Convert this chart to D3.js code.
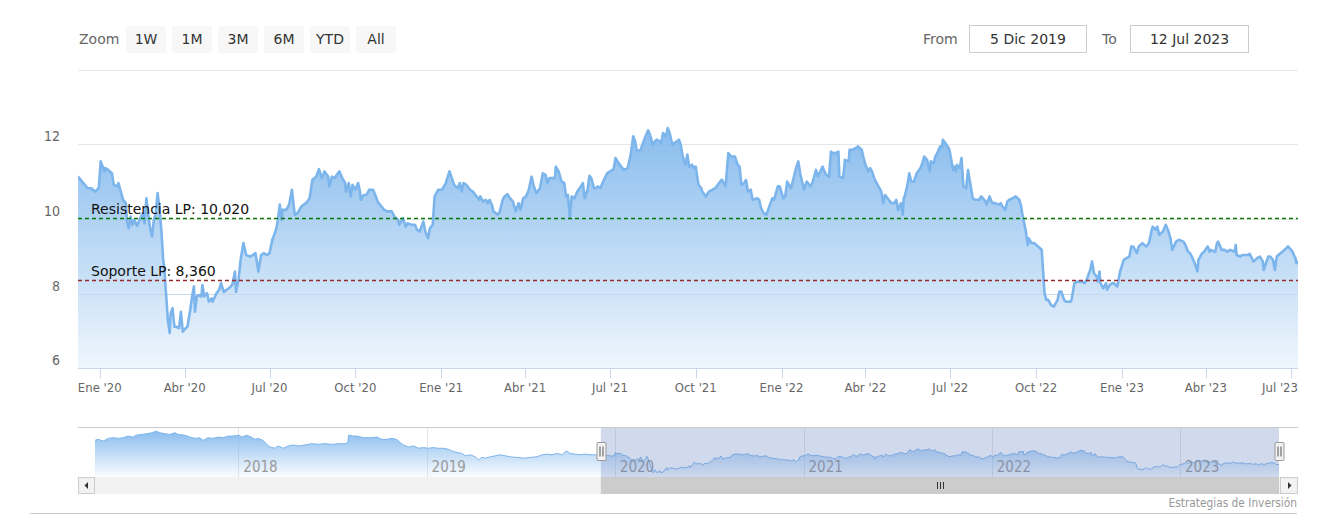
<!DOCTYPE html>
<html><head><meta charset="utf-8">
<script src="https://cdn.jsdelivr.net/npm/d3@7"></script>
<style>
body{margin:0;background:#fff}
svg{display:block}
.cond{font-family:"DejaVu Sans Condensed","DejaVu Sans",sans-serif;font-stretch:condensed}
.reg{font-family:"DejaVu Sans",sans-serif}
</style>
</head><body>
<svg id="chart" width="1342" height="517"></svg>
<script>
// ---------- data ----------
const zoomButtons = ["1W","1M","3M","6M","YTD","All"];
const zoomTitle = "Zoom";
const fromTitle = "From", toTitle = "To";
const fromValue = "5 Dic 2019", toValue = "12 Jul 2023";
const rangeStart = "2019-12-05", rangeEnd = "2023-07-12";
const navStart = "2017-03-29";
const yGridValues = [6, 8, 10, 12, 14];
const yLabelValues = [6, 8, 10, 12];
const xTickDates = ["2020-01-01","2020-04-01","2020-07-01","2020-10-01","2021-01-01","2021-04-01","2021-07-01","2021-10-01","2022-01-01","2022-04-01","2022-07-01","2022-10-01","2023-01-01","2023-04-01","2023-07-01"];
const xTickLabels = ["Ene '20","Abr '20","Jul '20","Oct '20","Ene '21","Abr '21","Jul '21","Oct '21","Ene '22","Abr '22","Jul '22","Oct '22","Ene '23","Abr '23","Jul '23"];
const navYears = ["2018","2019","2020","2021","2022","2023"];
const resistanceValue = 10.02, resistanceLabel = "Resistencia LP: 10,020";
const supportValue = 8.36, supportLabel = "Soporte LP: 8,360";
const creditsText = "Estrategias de Inversión";

const mainData = [
["2019-12-05",11.02],["2019-12-09",11.12],["2019-12-16",10.91],["2019-12-19",10.82],["2019-12-23",10.82],["2019-12-27",10.73],["2019-12-30",10.80],["2019-12-31",10.85],
["2020-01-02",11.54],["2020-01-06",11.27],["2020-01-07",11.36],["2020-01-10",11.31],["2020-01-14",11.22],["2020-01-16",10.91],["2020-01-20",10.87],["2020-01-21",10.96],["2020-01-23",10.78],["2020-01-26",10.51],["2020-01-29",10.42],["2020-01-30",9.97],
["2020-02-01",9.75],["2020-02-03",10.06],["2020-02-05",9.84],["2020-02-07",9.97],["2020-02-10",9.81],["2020-02-13",10.00],["2020-02-16",10.15],["2020-02-18",9.88],["2020-02-20",10.55],["2020-02-22",10.11],["2020-02-24",9.75],["2020-02-26",9.53],["2020-02-28",9.97],
["2020-03-01",10.15],["2020-03-03",10.69],["2020-03-05",10.29],["2020-03-07",9.70],["2020-03-09",8.90],["2020-03-10",8.72],["2020-03-12",8.01],["2020-03-14",7.29],["2020-03-16",6.94],["2020-03-17",7.47],["2020-03-19",7.61],["2020-03-21",7.11],["2020-03-23",7.11],["2020-03-26",7.07],["2020-03-28",7.51],["2020-03-30",6.98],
["2020-04-02",7.07],["2020-04-04",7.11],["2020-04-07",7.56],["2020-04-09",7.92],["2020-04-11",8.19],["2020-04-12",7.51],["2020-04-14",7.92],["2020-04-16",7.96],["2020-04-19",7.92],["2020-04-20",8.23],["2020-04-22",7.92],["2020-04-25",8.01],["2020-04-27",7.78],["2020-04-30",7.87],
["2020-05-01",7.78],["2020-05-05",8.00],["2020-05-08",8.10],["2020-05-10",8.28],["2020-05-13",8.04],["2020-05-16",8.10],["2020-05-19",8.15],["2020-05-22",8.23],["2020-05-25",8.59],["2020-05-26",8.04],["2020-05-29",8.41],["2020-05-31",8.90],
["2020-06-03",9.35],["2020-06-06",9.03],["2020-06-10",8.99],["2020-06-13",9.03],["2020-06-16",9.08],["2020-06-19",8.59],["2020-06-22",9.03],["2020-06-25",9.08],["2020-06-28",9.03],
["2020-07-01",9.08],["2020-07-04",9.44],["2020-07-06",9.57],["2020-07-08",9.71],["2020-07-10",9.97],["2020-07-12",10.38],["2020-07-14",9.97],["2020-07-15",10.24],["2020-07-19",10.24],["2020-07-22",10.38],["2020-07-25",10.78],["2020-07-28",10.11],["2020-07-31",10.15],
["2020-08-04",10.33],["2020-08-09",10.42],["2020-08-13",10.55],["2020-08-16",11.05],["2020-08-20",11.13],["2020-08-23",11.33],["2020-08-26",11.09],["2020-08-29",11.27],
["2020-09-02",11.13],["2020-09-03",10.87],["2020-09-06",11.13],["2020-09-09",11.09],["2020-09-11",11.18],["2020-09-14",11.27],["2020-09-17",11.09],["2020-09-20",10.96],["2020-09-21",10.73],["2020-09-24",10.96],["2020-09-26",10.60],["2020-09-28",10.91],
["2020-10-01",10.78],["2020-10-04",10.96],["2020-10-06",10.73],["2020-10-07",10.51],["2020-10-10",10.64],["2020-10-13",10.64],["2020-10-16",10.78],["2020-10-20",10.78],["2020-10-23",10.60],["2020-10-25",10.46],["2020-10-29",10.33],
["2020-11-01",10.24],["2020-11-04",10.20],["2020-11-09",10.20],["2020-11-12",10.06],["2020-11-16",9.97],["2020-11-17",9.84],["2020-11-21",10.02],["2020-11-24",9.79],["2020-11-26",9.88],["2020-11-30",9.84],
["2020-12-04",9.84],["2020-12-06",9.71],["2020-12-09",9.66],["2020-12-13",9.93],["2020-12-15",9.66],["2020-12-18",9.48],["2020-12-20",9.75],["2020-12-23",9.84],["2020-12-25",10.60],["2020-12-29",10.78],
["2021-01-02",10.78],["2021-01-06",10.96],["2021-01-10",11.27],["2021-01-13",11.05],["2021-01-15",10.91],["2021-01-19",10.82],["2021-01-21",10.96],["2021-01-23",10.73],["2021-01-25",10.96],["2021-01-28",10.91],
["2021-02-01",10.78],["2021-02-04",10.73],["2021-02-08",10.60],["2021-02-11",10.51],["2021-02-12",10.60],["2021-02-15",10.46],["2021-02-18",10.51],["2021-02-20",10.42],["2021-02-22",10.51],["2021-02-25",10.33],["2021-02-26",10.20],
["2021-03-03",10.11],["2021-03-05",10.20],["2021-03-08",10.51],["2021-03-10",10.60],["2021-03-13",10.66],["2021-03-16",10.55],["2021-03-19",10.46],["2021-03-22",10.20],["2021-03-25",10.42],["2021-03-27",10.24],["2021-03-30",10.55],
["2021-04-02",10.60],["2021-04-05",10.78],["2021-04-08",11.13],["2021-04-10",10.91],["2021-04-13",10.69],["2021-04-17",10.82],["2021-04-20",11.22],["2021-04-23",11.18],["2021-04-25",10.96],["2021-04-27",11.09],["2021-04-30",11.09],
["2021-05-03",11.09],["2021-05-04",11.40],["2021-05-07",11.27],["2021-05-10",11.00],["2021-05-13",10.96],["2021-05-15",10.60],["2021-05-17",10.64],["2021-05-19",10.02],["2021-05-21",10.60],["2021-05-24",10.55],["2021-05-27",10.73],["2021-05-31",10.87],
["2021-06-02",10.96],["2021-06-04",10.55],["2021-06-07",10.78],["2021-06-09",11.15],["2021-06-11",11.09],["2021-06-14",10.82],["2021-06-16",10.82],["2021-06-18",10.87],["2021-06-21",10.82],["2021-06-23",10.96],["2021-06-28",11.22],
["2021-07-01",11.27],["2021-07-05",11.33],["2021-07-07",11.63],["2021-07-09",11.54],["2021-07-13",11.40],["2021-07-16",11.31],["2021-07-20",11.36],["2021-07-23",11.68],["2021-07-26",12.21],["2021-07-28",12.08],["2021-07-30",11.80],
["2021-08-03",11.85],["2021-08-06",12.07],["2021-08-11",12.37],["2021-08-13",12.25],["2021-08-16",11.98],["2021-08-18",12.07],["2021-08-20",12.12],["2021-08-24",12.07],["2021-08-25",12.03],["2021-08-27",12.30],["2021-08-30",12.21],
["2021-09-01",12.43],["2021-09-03",12.30],["2021-09-06",11.98],["2021-09-08",12.03],["2021-09-13",12.12],["2021-09-15",11.98],["2021-09-17",11.68],["2021-09-20",11.45],["2021-09-22",11.72],["2021-09-24",11.40],["2021-09-27",11.45],["2021-09-29",11.36],
["2021-10-01",11.40],["2021-10-04",10.91],["2021-10-07",10.82],["2021-10-08",10.73],["2021-10-12",10.60],["2021-10-15",10.73],["2021-10-19",10.78],["2021-10-22",10.82],["2021-10-26",10.96],["2021-10-29",11.05],
["2021-11-02",10.87],["2021-11-05",11.76],["2021-11-08",11.67],["2021-11-12",11.67],["2021-11-15",11.45],["2021-11-17",11.40],["2021-11-19",10.91],["2021-11-22",10.96],["2021-11-24",11.04],["2021-11-26",10.73],["2021-11-29",10.78],
["2021-12-01",10.51],["2021-12-06",10.55],["2021-12-08",10.51],["2021-12-10",10.29],["2021-12-13",10.15],["2021-12-16",10.11],["2021-12-17",10.20],["2021-12-22",10.55],["2021-12-24",10.51],["2021-12-28",10.87],["2021-12-30",10.87],
["2022-01-03",10.55],["2022-01-05",10.60],["2022-01-07",11.00],["2022-01-11",10.82],["2022-01-13",11.00],["2022-01-17",11.40],["2022-01-19",11.54],["2022-01-21",11.22],["2022-01-25",10.78],["2022-01-28",11.00],
["2022-02-01",10.87],["2022-02-03",10.96],["2022-02-07",11.31],["2022-02-09",11.13],["2022-02-14",11.40],["2022-02-16",11.27],["2022-02-18",11.18],["2022-02-21",11.13],["2022-02-23",11.80],["2022-02-25",11.76],["2022-02-28",11.76],
["2022-03-03",11.80],["2022-03-04",11.13],["2022-03-08",11.09],["2022-03-10",11.58],["2022-03-14",11.54],["2022-03-15",11.85],["2022-03-18",11.85],["2022-03-22",11.90],["2022-03-24",11.94],["2022-03-28",11.85],["2022-03-30",11.63],
["2022-04-01",11.45],["2022-04-04",11.27],["2022-04-06",11.36],["2022-04-08",11.27],["2022-04-11",11.05],["2022-04-13",10.96],["2022-04-18",10.73],["2022-04-20",10.42],["2022-04-22",10.64],["2022-04-26",10.51],["2022-04-29",10.42],
["2022-05-02",10.42],["2022-05-04",10.51],["2022-05-06",10.24],["2022-05-09",10.42],["2022-05-11",10.11],["2022-05-12",10.55],["2022-05-13",10.60],["2022-05-16",10.91],["2022-05-18",11.22],["2022-05-20",11.00],["2022-05-23",11.00],["2022-05-26",11.22],["2022-05-30",11.36],
["2022-06-01",11.49],["2022-06-03",11.67],["2022-06-06",11.58],["2022-06-09",11.27],["2022-06-10",11.54],["2022-06-13",11.49],["2022-06-15",11.67],["2022-06-17",11.76],["2022-06-20",11.94],["2022-06-22",11.90],["2022-06-23",12.12],["2022-06-27",11.98],["2022-06-29",11.90],["2022-06-30",11.85],
["2022-07-04",11.31],["2022-07-05",11.40],["2022-07-07",11.27],["2022-07-08",11.45],["2022-07-11",11.36],["2022-07-13",11.63],["2022-07-15",10.87],["2022-07-18",10.82],["2022-07-20",11.31],["2022-07-22",11.00],["2022-07-25",10.55],["2022-07-28",10.51],
["2022-08-01",10.51],["2022-08-03",10.60],["2022-08-05",10.55],["2022-08-08",10.46],["2022-08-09",10.38],["2022-08-12",10.60],["2022-08-15",10.42],["2022-08-18",10.42],["2022-08-22",10.38],["2022-08-24",10.42],["2022-08-26",10.33],["2022-08-29",10.24],["2022-08-31",10.46],
["2022-09-02",10.51],["2022-09-06",10.55],["2022-09-09",10.60],["2022-09-13",10.51],["2022-09-15",10.33],["2022-09-16",10.15],["2022-09-19",9.79],["2022-09-20",9.66],["2022-09-22",9.30],["2022-09-23",9.48],["2022-09-26",9.35],["2022-09-29",9.35],
["2022-10-03",9.26],["2022-10-07",9.17],["2022-10-10",8.01],["2022-10-11",7.92],["2022-10-12",7.83],["2022-10-14",7.83],["2022-10-17",7.69],["2022-10-20",7.65],["2022-10-24",7.83],["2022-10-26",8.05],["2022-10-28",8.05],["2022-10-31",7.83],
["2022-11-02",7.78],["2022-11-07",7.78],["2022-11-08",7.83],["2022-11-11",8.28],["2022-11-15",8.32],["2022-11-18",8.32],["2022-11-22",8.28],["2022-11-24",8.36],["2022-11-28",8.63],["2022-11-30",8.86],
["2022-12-02",8.54],["2022-12-05",8.45],["2022-12-06",8.32],["2022-12-08",8.59],["2022-12-09",8.28],["2022-12-12",8.14],["2022-12-15",8.28],["2022-12-16",8.10],["2022-12-19",8.23],["2022-12-22",8.28],["2022-12-23",8.28],["2022-12-27",8.19],["2022-12-29",8.45],["2022-12-30",8.59],
["2023-01-03",8.90],["2023-01-06",8.95],["2023-01-09",8.99],["2023-01-11",9.26],["2023-01-13",9.26],["2023-01-17",9.08],["2023-01-19",9.26],["2023-01-23",9.35],["2023-01-25",9.30],["2023-01-27",9.26],["2023-01-30",9.35],
["2023-02-02",9.71],["2023-02-03",9.79],["2023-02-06",9.71],["2023-02-08",9.79],["2023-02-10",9.57],["2023-02-14",9.66],["2023-02-17",9.84],["2023-02-20",9.66],["2023-02-22",9.48],["2023-02-24",9.17],["2023-02-28",9.39],
["2023-03-03",9.44],["2023-03-08",9.39],["2023-03-10",9.30],["2023-03-13",9.12],["2023-03-15",9.08],["2023-03-17",8.99],["2023-03-20",8.81],["2023-03-23",8.59],["2023-03-24",8.90],["2023-03-28",9.08],["2023-03-30",9.12],
["2023-04-03",9.26],["2023-04-05",9.12],["2023-04-06",9.17],["2023-04-11",9.12],["2023-04-13",9.35],["2023-04-14",9.39],["2023-04-18",9.17],["2023-04-21",9.17],["2023-04-24",9.12],["2023-04-27",9.17],
["2023-05-02",9.12],["2023-05-03",9.30],["2023-05-04",9.03],["2023-05-08",8.99],["2023-05-10",9.03],["2023-05-12",9.03],["2023-05-16",9.03],["2023-05-18",9.06],["2023-05-22",8.86],["2023-05-24",8.90],["2023-05-26",8.95],["2023-05-29",8.99],
["2023-06-01",8.86],["2023-06-02",8.63],["2023-06-05",8.86],["2023-06-07",8.99],["2023-06-09",8.99],["2023-06-12",8.90],["2023-06-14",8.63],["2023-06-16",8.99],["2023-06-20",9.08],["2023-06-22",9.12],["2023-06-26",9.21],["2023-06-28",9.26],
["2023-07-03",9.12],["2023-07-05",8.99],["2023-07-06",8.95],["2023-07-07",8.81],["2023-07-10",8.88],["2023-07-12",8.78]
];

const historyData = [
["2017-03-29",14.31],["2017-04-04",14.54],["2017-04-14",14.16],["2017-04-24",14.76],["2017-05-03",14.91],["2017-05-13",14.76],["2017-05-23",14.91],["2017-06-01",15.28],["2017-06-11",15.06],["2017-06-17",15.50],["2017-06-27",15.66],
["2017-07-07",15.81],["2017-07-17",16.04],["2017-07-26",16.40],["2017-08-02",16.04],["2017-08-12",15.81],["2017-08-21",15.66],["2017-08-31",16.04],["2017-09-06",15.66],["2017-09-19",15.50],["2017-09-29",15.06],
["2017-10-09",14.76],["2017-10-18",14.91],["2017-10-25",14.31],["2017-11-03",14.91],["2017-11-13",14.76],["2017-11-23",15.06],["2017-12-02",14.91],["2017-12-12",15.28],["2017-12-22",15.28],
["2018-01-02",15.50],["2018-01-08",15.06],["2018-01-17",15.50],["2018-01-26",15.06],["2018-02-02",14.54],["2018-02-08",14.76],["2018-02-18",14.31],["2018-02-25",13.41],["2018-03-03",12.81],["2018-03-13",12.52],["2018-03-19",13.04],["2018-03-29",12.52],
["2018-04-08",13.04],["2018-04-17",13.26],["2018-04-27",13.04],["2018-05-10",13.26],["2018-05-23",13.56],["2018-06-05",13.41],["2018-06-18",13.56],["2018-07-01",13.41],["2018-07-14",13.56],["2018-07-27",13.56],["2018-08-01",13.79],["2018-08-03",15.50],
["2018-08-12",15.28],["2018-08-19",15.28],["2018-09-01",14.91],["2018-09-14",14.91],["2018-09-27",15.06],["2018-10-06",14.54],["2018-10-16",14.54],["2018-10-26",14.76],["2018-11-04",14.54],["2018-11-11",13.79],["2018-11-17",13.26],["2018-11-27",12.81],
["2018-12-07",13.04],["2018-12-16",12.52],["2018-12-26",12.67],["2019-01-05",12.52],["2019-01-14",12.67],["2019-01-24",12.52],["2019-02-03",12.52],["2019-02-12",12.30],["2019-02-19",11.92],["2019-03-01",11.56],["2019-03-11",11.34],["2019-03-17",10.80],
["2019-03-27",11.03],["2019-04-05",10.58],["2019-04-12",9.88],["2019-04-18",10.43],["2019-04-25",10.28],["2019-05-05",10.58],["2019-05-14",10.80],["2019-05-24",11.03],["2019-06-03",10.80],["2019-06-12",10.58],["2019-06-25",10.43],
["2019-07-08",10.28],["2019-07-21",10.43],["2019-08-03",10.58],["2019-08-13",11.03],["2019-08-22",11.18],["2019-09-01",11.03],["2019-09-11",11.34],["2019-09-20",11.03],["2019-09-30",11.92],["2019-10-06",11.34],["2019-10-16",11.18],
["2019-10-26",11.03],["2019-11-04",11.18],["2019-11-14",11.03],["2019-11-27",11.03]
];

// ---------- layout ----------
const parse = d3.utcParse("%Y-%m-%d");
const plotL = 78, plotR = 1298, plotT = 69.5, plotB = 368.2;
const navL = 95, navR = 1279, navT = 427, navB = 477;
const svg = d3.select("#chart");
const main = mainData.map(d => ({date: parse(d[0]), value: d[1]}));
const nav = historyData.map(d => ({date: parse(d[0]), value: d[1]})).concat(main);

const x = d3.scaleUtc().domain([parse(rangeStart), parse(rangeEnd)]).range([74.6, 1301]);
const y = d3.scaleLinear().domain([6, 14]).range([plotB, plotT]);

const defs = svg.append("defs");
defs.append("clipPath").attr("id","plotClip").append("rect")
  .attr("x", plotL).attr("y", 0).attr("width", plotR - plotL).attr("height", plotB + 1);
const g1 = defs.append("linearGradient").attr("id","gMain").attr("gradientUnits","userSpaceOnUse")
  .attr("x1",0).attr("x2",0).attr("y1", y(d3.max(main, d=>d.value))).attr("y2", plotB);
g1.append("stop").attr("offset",0).attr("stop-color","#7cb5ec").attr("stop-opacity",0.9);
g1.append("stop").attr("offset",1).attr("stop-color","#7cb5ec").attr("stop-opacity",0.12);

// ---------- range selector ----------
svg.append("text").attr("class","reg").attr("x",79).attr("y",44).attr("font-size",14).attr("fill","#666").text(zoomTitle);
const btn = svg.selectAll("g.btn").data(zoomButtons).join("g").attr("class","btn")
  .attr("transform",(d,i)=>`translate(${126 + i*46},26)`);
btn.append("rect").attr("width",40).attr("height",27).attr("rx",2).attr("fill","#f7f7f7");
btn.append("text").attr("class","reg").attr("x",20).attr("y",18).attr("text-anchor","middle")
  .attr("font-size",14).attr("fill","#333").text(d=>d);

svg.append("text").attr("class","reg").attr("x",923).attr("y",44).attr("font-size",14).attr("fill","#666").text(fromTitle);
svg.append("rect").attr("x",969.5).attr("y",25.5).attr("width",117).attr("height",27).attr("fill","#fff").attr("stroke","#ccc");
svg.append("text").attr("class","reg").attr("x",1028).attr("y",44).attr("text-anchor","middle").attr("font-size",14).attr("fill","#333").text(fromValue);
svg.append("text").attr("class","reg").attr("x",1102).attr("y",44).attr("font-size",14).attr("fill","#666").text(toTitle);
svg.append("rect").attr("x",1130.5).attr("y",25.5).attr("width",118).attr("height",27).attr("fill","#fff").attr("stroke","#ccc");
svg.append("text").attr("class","reg").attr("x",1189.5).attr("y",44).attr("text-anchor","middle").attr("font-size",14).attr("fill","#333").text(toValue);

// ---------- grid ----------
svg.append("g").selectAll("line").data(yGridValues.filter(v=>v>6)).join("line")
  .attr("x1",plotL).attr("x2",plotR).attr("y1",d=>Math.round(y(d))+0.5).attr("y2",d=>Math.round(y(d))+0.5)
  .attr("stroke","#e6e6e6").attr("stroke-width",1);

// ---------- series ----------
const plotG = svg.append("g").attr("clip-path","url(#plotClip)");
plotG.append("path").datum(main)
  .attr("d", d3.area().x(d=>x(d.date)).y0(plotB).y1(d=>y(d.value)))
  .attr("fill","url(#gMain)");
plotG.append("line").attr("x1",plotL).attr("x2",plotR).attr("y1",Math.round(y(8))+0.5).attr("y2",Math.round(y(8))+0.5)
  .attr("stroke","#c5d8ee").attr("stroke-width",1);
plotG.append("path").datum(main)
  .attr("d", d3.line().x(d=>x(d.date)).y(d=>y(d.value)))
  .attr("fill","none").attr("stroke","#7cb5ec").attr("stroke-width",2.6).attr("stroke-linejoin","round");

// ---------- plot lines ----------
function plotLine(v, color, label){
  const yy = Math.round(y(v)) + 0.5;
  svg.append("line").attr("x1",plotL).attr("x2",plotR).attr("y1",yy).attr("y2",yy)
    .attr("stroke",color).attr("stroke-width",1.4).attr("stroke-dasharray","4,3");
  svg.append("text").attr("class","reg").attr("x",91).attr("y",yy-4.5).attr("font-size",14).attr("fill","#111").text(label);
}
plotLine(resistanceValue, "#087a08", resistanceLabel);
plotLine(supportValue, "#962c2c", supportLabel);

// ---------- axes ----------
svg.append("line").attr("x1",plotL).attr("x2",plotR).attr("y1",plotB+0.3).attr("y2",plotB+0.3).attr("stroke","#ccd6eb");
const xt = svg.append("g").selectAll("g").data(xTickDates.map((d,i)=>({d:parse(d), label:xTickLabels[i]}))).join("g");
xt.append("line").attr("x1",d=>Math.round(x(d.d))+0.5).attr("x2",d=>Math.round(x(d.d))+0.5)
  .attr("y1",plotB).attr("y2",plotB+10).attr("stroke","#ccd6eb");
xt.append("text").attr("class","cond").attr("x",d=>x(d.d)).attr("y",392).attr("text-anchor","middle")
  .attr("font-size",13).attr("fill","#666").text(d=>d.label)
  .each(function(){
    const b = this.getBBox();
    if (b.x + b.width > plotR) { d3.select(this).attr("text-anchor","end").attr("x", plotR); }
  });
svg.append("g").selectAll("text").data(yLabelValues).join("text").attr("class","cond")
  .attr("x",60).attr("y",d=>y(d)-3).attr("text-anchor","end").attr("font-size",14).attr("fill","#666").text(d=>d);

// ---------- navigator ----------
const nx = d3.scaleUtc().domain([parse(navStart), parse(rangeEnd)]).range([navL, navR]);
const [nmin, nmax] = d3.extent(nav, d=>d.value);
const pad = (nmax - nmin) * 0.1;
const ny = d3.scaleLinear().domain([nmin - pad, nmax + pad]).range([navB, navT]);
const g2 = defs.append("linearGradient").attr("id","gNav").attr("gradientUnits","userSpaceOnUse")
  .attr("x1",0).attr("x2",0).attr("y1", ny(nmax)).attr("y2", navB);
g2.append("stop").attr("offset",0).attr("stop-color","#7cb5ec").attr("stop-opacity",0.9);
g2.append("stop").attr("offset",1).attr("stop-color","#7cb5ec").attr("stop-opacity",0.03);

svg.append("g").selectAll("line").data(navYears).join("line")
  .attr("x1",d=>Math.round(nx(parse(d+"-01-01")))+0.5).attr("x2",d=>Math.round(nx(parse(d+"-01-01")))+0.5)
  .attr("y1",navT).attr("y2",navB).attr("stroke","#e6e6e6");
svg.append("path").datum(nav)
  .attr("d", d3.area().x(d=>nx(d.date)).y0(navB).y1(d=>ny(d.value)))
  .attr("fill","url(#gNav)");
svg.append("path").datum(nav)
  .attr("d", d3.line().x(d=>nx(d.date)).y(d=>ny(d.value)))
  .attr("fill","none").attr("stroke","#7cb5ec").attr("stroke-width",1);
svg.append("g").selectAll("text").data(navYears).join("text").attr("class","cond")
  .attr("x",d=>nx(parse(d+"-01-01"))+5).attr("y",471.5).attr("font-size",15).attr("fill","#999").text(d=>d);
const hL = nx(parse(rangeStart)), hR = nx(parse(rangeEnd));
svg.append("rect").attr("x",hL).attr("y",navT).attr("width",hR-hL).attr("height",navB-navT)
  .attr("fill","rgba(102,133,194,0.3)");
svg.append("line").attr("x1",plotL).attr("x2",plotR).attr("y1",navT+0.5).attr("y2",navT+0.5).attr("stroke","#ccc");
[hL, hR].forEach(hx=>{
  const cx = Math.round(hx)+0.5;
  svg.append("rect").attr("x",cx-4.5).attr("y",442.5).attr("width",9).attr("height",18).attr("rx",1)
    .attr("fill","#f2f2f2").attr("stroke","#999");
  [-1.5,1.5].forEach(o=>svg.append("line").attr("x1",cx+o).attr("x2",cx+o).attr("y1",446.5).attr("y2",456.5).attr("stroke","#555"));
});

// ---------- scrollbar ----------
svg.append("rect").attr("x",plotL).attr("y",477).attr("width",plotR-plotL).attr("height",17).attr("fill","#f2f2f2");
svg.append("rect").attr("x",hL).attr("y",477).attr("width",hR-hL).attr("height",17).attr("fill","#cccccc");
const gripX = Math.round((hL+hR)/2);
[-3,0,3].forEach(o=>svg.append("line").attr("x1",gripX+o+0.5).attr("x2",gripX+o+0.5).attr("y1",482).attr("y2",489).attr("stroke","#333"));
svg.append("rect").attr("x",plotL+0.5).attr("y",477.5).attr("width",16).attr("height",16).attr("fill","#f2f2f2").attr("stroke","#ccc");
svg.append("path").attr("d",`M${plotL+6.5},485.5 L${plotL+10},482 L${plotL+10},489 Z`).attr("fill","#333");
svg.append("rect").attr("x",plotR-17.5).attr("y",477.5).attr("width",17).attr("height",16).attr("fill","#f2f2f2").attr("stroke","#ccc");
svg.append("path").attr("d",`M${plotR-6.5},485.5 L${plotR-10},482 L${plotR-10},489 Z`).attr("fill","#333");

// ---------- credits & border ----------
svg.append("text").attr("class","cond").attr("x",1297).attr("y",507).attr("text-anchor","end")
  .attr("font-size",11.8).attr("fill","#999").text(creditsText);
svg.append("line").attr("x1",30).attr("x2",1297).attr("y1",513.5).attr("y2",513.5).attr("stroke","#ccc");
</script>
</body></html>
